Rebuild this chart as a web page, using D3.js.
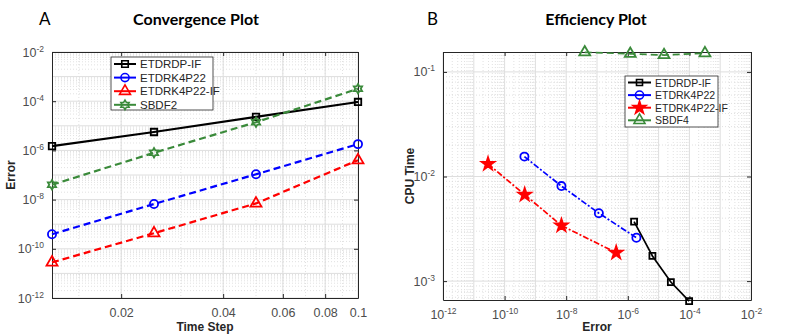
<!DOCTYPE html>
<html>
<head>
  <meta charset="utf-8" />
  <title>Convergence and Efficiency</title>
  <style>
    body { margin: 0; background: white; }
    svg { display: block; }
    .tick text { font-family: "Liberation Sans", Arial, sans-serif; fill: #4d4d4d; }
  </style>
  <script src="https://d3js.org/d3.v7.min.js"></script>
</head>
<body>
<svg id="chart" width="789" height="336" style="background:white;"></svg>
<script>
  // --- data ---
  var seriesNames = ["ETDRDP-IF", "ETDRK4P22", "ETDRK4P22-IF"];

  // panel A: error vs time step
  var timeSteps = [0.0125, 0.025, 0.05, 0.1];
  var convETDRDPIF = [1.5e-6, 5.6e-6, 2.3e-5, 9.3e-5];
  var convETDRK4P22 = [3.9e-10, 6.6e-9, 1.07e-7, 1.8e-6];
  var convETDRK4P22IF = [2.8e-11, 4.3e-10, 7.0e-9, 4.0e-7];
  var convSBDF2 = [4.0e-8, 8.0e-7, 1.4e-5, 3.2e-4];
  var convXTicks = [0.02, 0.04, 0.06, 0.08, 0.1];
  var convYTickExp = [-12, -10, -8, -6, -4, -2];

  // panel B: cpu time vs error
  var effErrETDRDPIF = [1.6e-6, 6.3e-6, 2.5e-5, 9.8e-5];
  var effCpuETDRDPIF = [3.7e-3, 1.74e-3, 9.8e-4, 6.45e-4];
  var effErrETDRK4P22 = [4.4e-10, 7.0e-9, 1.15e-7, 1.9e-6];
  var effCpuETDRK4P22 = [0.0155, 8.1e-3, 4.46e-3, 2.6e-3];
  var effErrETDRK4P22IF = [2.9e-11, 4.5e-10, 7.0e-9, 4.2e-7];
  var effCpuETDRK4P22IF = [0.0132, 6.7e-3, 3.4e-3, 1.87e-3];
  var effErrSBDF4 = [4.0e-8, 1.2e-6, 1.5e-5, 3.2e-4];
  var effCpuSBDF4 = [0.154, 0.149, 0.145, 0.151];
  var effXTickExp = [-12, -10, -8, -6, -4, -2];
  var effYTickExp = [-3, -2, -1];

  var svg = d3.select("#chart");

  // six pointed star for SBDF2
  var hexagram = {
    draw: function (ctx, size) {
      var R = Math.sqrt(size) * 0.75, r = R * 0.58;
      for (var i = 0; i < 12; i++) {
        var a = -Math.PI / 2 + i * Math.PI / 6;
        var rr = i % 2 ? r : R;
        if (i == 0) ctx.moveTo(rr * Math.cos(a), rr * Math.sin(a));
        else ctx.lineTo(rr * Math.cos(a), rr * Math.sin(a));
      }
      ctx.closePath();
    }
  };

  function supLabel(sel, base, exp) {
    sel.text(null);
    sel.append("tspan").text(base);
    sel.append("tspan").attr("dy", -5).attr("font-size", 8.5).text(exp);
  }

  function panel(opt) {
    var g = svg.append("g");
    var x = opt.x, y = opt.y;
    var x0 = x.range()[0], x1 = x.range()[1], y0 = y.range()[1], y1 = y.range()[0];

    // grid: minor dotted, major solid
    var grid = g.append("g");
    grid.selectAll("line.mx").data(opt.xMinor).enter().append("line")
      .attr("x1", function (d) { return x(d) }).attr("x2", function (d) { return x(d) })
      .attr("y1", y0).attr("y2", y1)
      .style("stroke", "#d4d4d4").style("stroke-dasharray", "1,2").style("stroke-width", 0.7);
    grid.selectAll("line.my").data(opt.yMinor).enter().append("line")
      .attr("y1", function (d) { return y(d) }).attr("y2", function (d) { return y(d) })
      .attr("x1", x0).attr("x2", x1)
      .style("stroke", "#d4d4d4").style("stroke-dasharray", "1,2").style("stroke-width", 0.7);
    grid.selectAll("line.Mx").data(opt.xMajor).enter().append("line")
      .attr("x1", function (d) { return x(d) }).attr("x2", function (d) { return x(d) })
      .attr("y1", y0).attr("y2", y1)
      .style("stroke", "#dedede").style("stroke-width", 1);
    grid.selectAll("line.My").data(opt.yMajor).enter().append("line")
      .attr("y1", function (d) { return y(d) }).attr("y2", function (d) { return y(d) })
      .attr("x1", x0).attr("x2", x1)
      .style("stroke", "#dedede").style("stroke-width", 1);

    // axes
    var xa = g.append("g").attr("transform", "translate(0," + y1 + ")")
      .call(d3.axisBottom(x).tickValues(opt.xTicks).tickSizeInner(-4).tickSizeOuter(0).tickPadding(10));
    var ya = g.append("g").attr("transform", "translate(" + x0 + ",0)")
      .call(d3.axisLeft(y).tickValues(opt.yTicks).tickSizeInner(-4).tickSizeOuter(0).tickPadding(8));
    g.append("g").attr("transform", "translate(0," + y0 + ")")
      .call(d3.axisTop(x).tickValues(opt.xTicks).tickSizeInner(-4).tickSizeOuter(0).tickFormat(""));
    g.append("g").attr("transform", "translate(" + x1 + ",0)")
      .call(d3.axisRight(y).tickValues(opt.yTicks).tickSizeInner(-4).tickSizeOuter(0).tickFormat(""));
    g.selectAll(".domain").style("stroke", "#262626");
    g.selectAll(".tick line").style("stroke", "#262626");
    g.selectAll(".tick text").attr("font-size", 12.5);
    if (opt.xFormat) xa.selectAll(".tick text").text(opt.xFormat);
    else xa.selectAll(".tick text").each(function (d) { supLabel(d3.select(this), "10", Math.round(Math.log10(d))) });
    ya.selectAll(".tick text").each(function (d) { supLabel(d3.select(this), "10", Math.round(Math.log10(d))) });

    // series
    opt.series.forEach(function (s) {
      var pts = s.xs.map(function (v, i) { return [v, s.ys[i]] });
      g.append("path").datum(pts)
        .attr("d", d3.line().x(function (d) { return x(d[0]) }).y(function (d) { return y(d[1]) }))
        .style("fill", "none").style("stroke", s.color).style("stroke-width", opt.lineWidth)
        .style("stroke-dasharray", s.dash || null);
      g.selectAll(null).data(pts).enter().append("path")
        .attr("transform", function (d) { return "translate(" + x(d[0]) + "," + y(d[1]) + ")" })
        .attr("d", d3.symbol().type(s.symbol).size(s.size))
        .style("fill", s.fill || "none").style("stroke", s.color).style("stroke-width", 1.8);
    });

    // legend
    var lg = g.append("g").attr("transform", "translate(" + opt.legend.x + "," + opt.legend.y + ")");
    lg.append("rect").attr("width", opt.legend.w).attr("height", opt.legend.h)
      .style("fill", "white").style("stroke", "#262626").style("stroke-width", 0.8);
    opt.series.forEach(function (s, i) {
      var yy = opt.legend.top + i * opt.legend.step;
      lg.append("line").attr("x1", 3).attr("x2", opt.legend.lineLen).attr("y1", yy).attr("y2", yy)
        .style("stroke", s.color).style("stroke-width", 2);
      lg.append("path").attr("transform", "translate(" + (3 + opt.legend.lineLen) / 2 + "," + yy + ")")
        .attr("d", d3.symbol().type(s.symbol).size(s.size))
        .style("fill", s.fill || "none").style("stroke", s.color).style("stroke-width", 1.6);
      lg.append("text").attr("x", opt.legend.lineLen + 4).attr("y", yy + 4)
        .attr("font-family", "Liberation Sans, Arial, sans-serif").attr("font-size", opt.legend.font)
        .style("fill", "#262626").text(s.name);
    });

    // labels
    svg.append("text").attr("x", (x0 + x1) / 2).attr("y", 331).attr("text-anchor", "middle")
      .attr("font-family", "Liberation Sans, Arial, sans-serif").attr("font-weight", "bold")
      .attr("font-size", 12).style("fill", "#262626").text(opt.xLabel);
    svg.append("text").attr("transform", "translate(" + opt.yLabelX + "," + (y0 + y1) / 2 + ") rotate(-90)")
      .attr("text-anchor", "middle")
      .attr("font-family", "Liberation Sans, Arial, sans-serif").attr("font-weight", "bold")
      .attr("font-size", 12).style("fill", "#262626").text(opt.yLabel);
    svg.append("text").attr("x", opt.titleX).attr("y", 25).attr("text-anchor", "middle")
      .attr("font-family", "Lato, 'Open Sans', sans-serif").attr("font-weight", "bold")
      .attr("font-size", 16).style("fill", "black").text(opt.title);
    svg.append("text").attr("x", opt.letterX).attr("y", 25)
      .attr("font-family", "Lato, 'Open Sans', sans-serif")
      .attr("font-size", 17).style("fill", "black").text(opt.letter);
  }

  function decadeMinors(lo, hi) {
    var out = [];
    for (var e = lo; e < hi; e++) for (var m = 2; m < 10; m++) out.push(m * Math.pow(10, e));
    return out;
  }
  function decades(lo, hi) {
    var out = [];
    for (var e = lo; e <= hi; e++) out.push(Math.pow(10, e));
    return out;
  }

  // panel A
  var xA = d3.scaleLog().domain([0.0125, 0.1]).range([52, 358]);
  var yA = d3.scaleLog().domain([1e-12, 1e-2]).range([298, 52]);
  var xAMinor = [0.015];
  for (var k = 2; k <= 9; k++) xAMinor.push(k / 100);
  panel({
    x: xA, y: yA,
    xTicks: convXTicks, yTicks: convYTickExp.map(function (e) { return Math.pow(10, e) }),
    xFormat: function (d) { return d3.format("")(d) },
    xMinor: xAMinor, xMajor: convXTicks,
    yMinor: decadeMinors(-12, -2), yMajor: decades(-12, -2),
    lineWidth: 2.2,
    series: [
      { name: seriesNames[0], xs: timeSteps, ys: convETDRDPIF, color: "black", symbol: d3.symbolSquare, size: 42 },
      { name: seriesNames[1], xs: timeSteps, ys: convETDRK4P22, color: "#0000ff", symbol: d3.symbolCircle, size: 52, dash: "7,4" },
      { name: seriesNames[2], xs: timeSteps, ys: convETDRK4P22IF, color: "#ff0000", symbol: d3.symbolTriangle, size: 52, dash: "7,4" },
      { name: "SBDF2", xs: timeSteps, ys: convSBDF2, color: "#3a8a3a", symbol: hexagram, size: 40, dash: "7,4" }
    ],
    legend: { x: 111, y: 57, w: 102, h: 53, top: 7, step: 13.6, lineLen: 25, font: 11.5 },
    xLabel: "Time Step", yLabel: "Error", yLabelX: 15,
    title: "Convergence Plot", titleX: 196, letter: "A", letterX: 39
  });

  // panel B
  var xB = d3.scaleLog().domain([1e-12, 1e-2]).range([443, 751]);
  var yB = d3.scaleLog().domain([6.6e-4, 0.155]).range([300, 52]);
  panel({
    x: xB, y: yB,
    xTicks: effXTickExp.map(function (e) { return Math.pow(10, e) }),
    yTicks: effYTickExp.map(function (e) { return Math.pow(10, e) }),
    xMinor: decadeMinors(-12, -2), xMajor: decades(-12, -2),
    yMinor: decadeMinors(-4, 0).filter(function (v) { return v > 6.6e-4 && v < 0.155 }),
    yMajor: decades(-3, -1),
    lineWidth: 1.7,
    series: [
      { name: seriesNames[0], xs: effErrETDRDPIF, ys: effCpuETDRDPIF, color: "black", symbol: d3.symbolSquare, size: 36 },
      { name: seriesNames[1], xs: effErrETDRK4P22, ys: effCpuETDRK4P22, color: "#0000ff", symbol: d3.symbolCircle, size: 52, dash: "6,2,2,2" },
      { name: seriesNames[2], xs: effErrETDRK4P22IF, ys: effCpuETDRK4P22IF, color: "#ff0000", symbol: d3.symbolStar, size: 50, fill: "#ff0000", dash: "6,2,2,2" },
      { name: "SBDF4", xs: effErrSBDF4, ys: effCpuSBDF4, color: "#3a8a3a", symbol: d3.symbolTriangle, size: 52, dash: "7,4" }
    ],
    legend: { x: 625, y: 76, w: 93, h: 51, top: 6.5, step: 12.6, lineLen: 26, font: 10.5 },
    xLabel: "Error", yLabel: "CPU Time", yLabelX: 414,
    title: "Efficiency Plot", titleX: 596, letter: "B", letterX: 427
  });
</script>
</body>
</html>
